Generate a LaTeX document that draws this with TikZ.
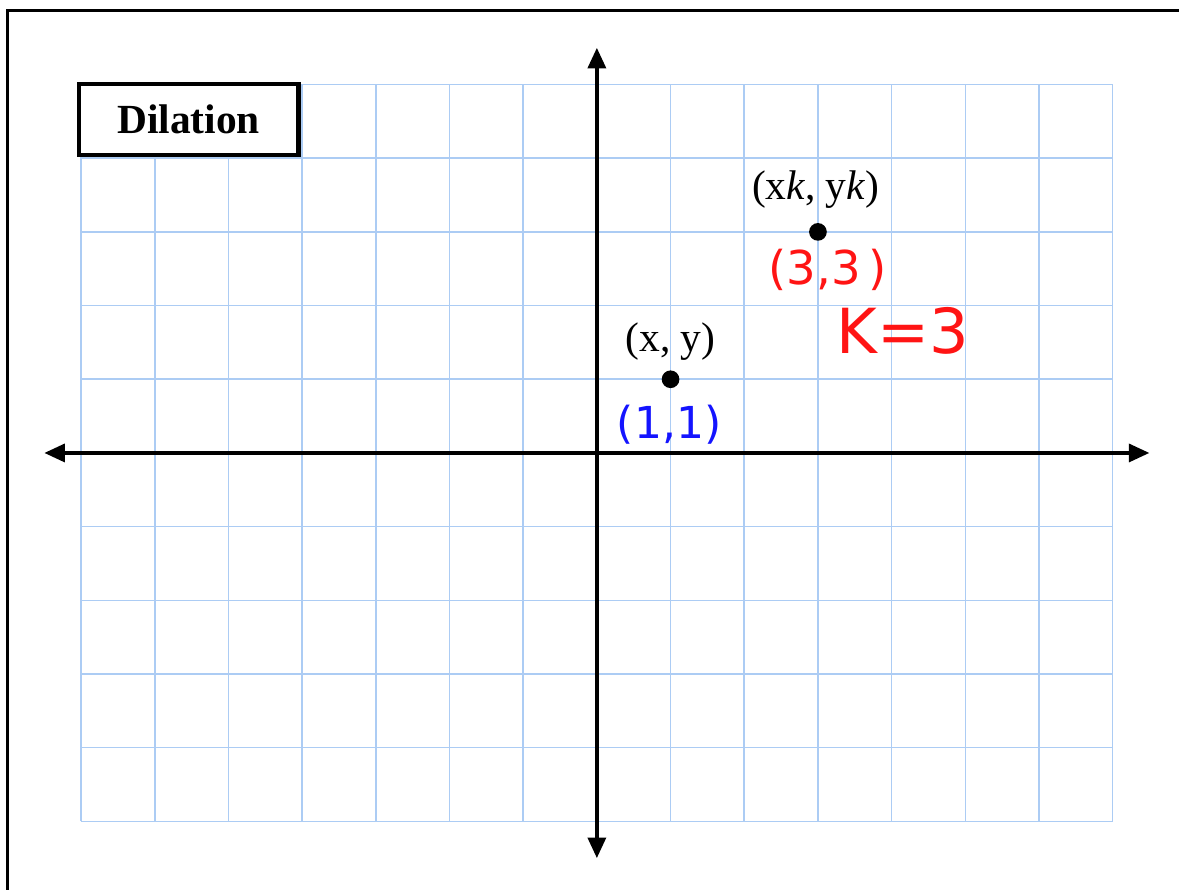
\documentclass[tikz,border=0pt]{standalone}
\usepackage{fontspec}
\setmainfont{Liberation Serif}
\newfontfamily\handfont{DejaVu Sans}
\usetikzlibrary{arrows.meta}
\definecolor{gridblue}{RGB}{172,204,244}
\definecolor{inkred}{RGB}{255,20,20}
\definecolor{inkblue}{RGB}{20,20,255}
\begin{document}
\begin{tikzpicture}[x=1cm,y=1cm]
\useasboundingbox (-8.1,-5.93) rectangle (7.9,6.147);
\draw[line width=1.2pt] (-8.0,-5.95) -- (-8.0,6.0) -- (7.95,6.0);
\draw[gridblue, line width=0.6pt] (-7,-5) grid (7,5);
\coordinate (l) at (-7.5,0);
\coordinate (r) at (7.5,0);
\coordinate (t) at (0,5.5);
\coordinate (b) at (0,-5.5);
\draw[line width=1.6pt, -{Triangle[length=0.28cm,width=0.24cm]}] (0,0) -- (r);
\draw[line width=1.6pt, -{Triangle[length=0.28cm,width=0.24cm]}] (0,0) -- (l);
\draw[line width=1.6pt, -{Triangle[length=0.28cm,width=0.24cm]}] (0,0) -- (t);
\draw[line width=1.6pt, -{Triangle[length=0.28cm,width=0.24cm]}] (0,0) -- (b);
\node[draw, fill=white, line width=1.6pt, minimum width=2.98cm, minimum height=0.97cm, font=\fontsize{16}{19}\selectfont\bfseries] (a) at (-5.54,4.525) {Dilation};
\node[circle, fill=black, inner sep=0pt, minimum size=0.24cm] (p) at (1,1) {};
\node[circle, fill=black, inner sep=0pt, minimum size=0.24cm] (q) at (3,3) {};
\node[font=\fontsize{16}{19}\selectfont] (pl) at (1,1.51) {(x, y)};
\node[font=\fontsize{16}{19}\selectfont] (ql) at (2.97,3.58) {(x\textit{k}, y\textit{k})};
\node[inkblue, font=\handfont\fontsize{17}{20}\selectfont] (pv) at (0.98,0.39) {(1,1)};
\node[inkred, font=\handfont\fontsize{18}{21}\selectfont] (qv) at (3.13,2.48) {(3,3\,)};
\node[inkred, font=\handfont\fontsize{24}{28}\selectfont] (kv) at (4.15,1.66) {K=3};
\end{tikzpicture}
\end{document}
